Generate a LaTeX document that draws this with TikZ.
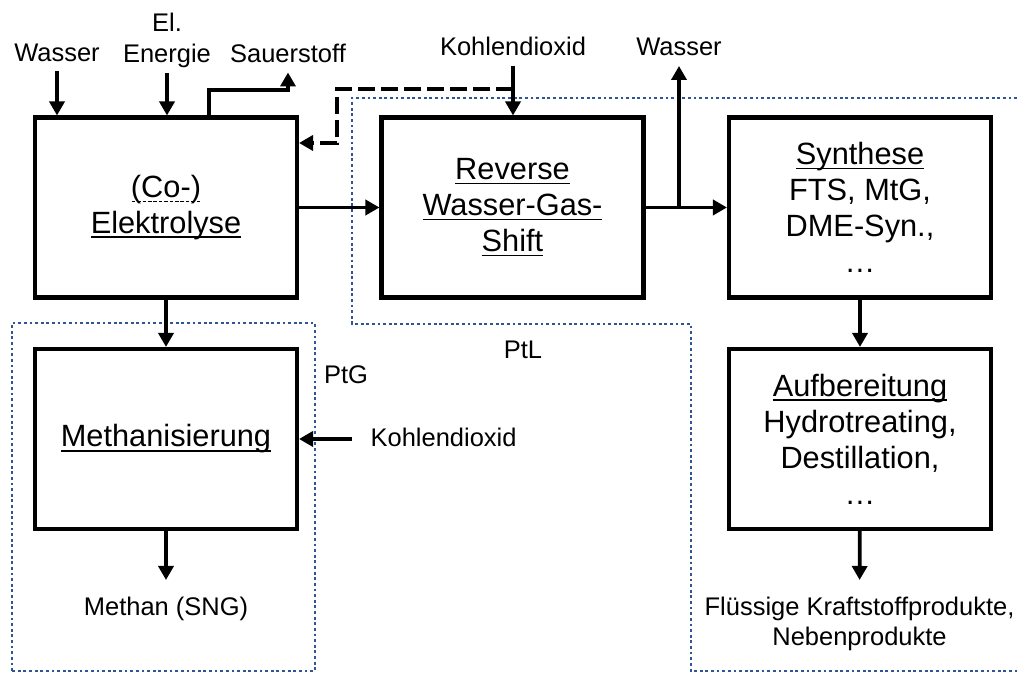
\documentclass[tikz,border=0pt]{standalone}
\usepackage{fontspec}
\setmainfont{Liberation Sans}
\usepackage{tikz}
\usetikzlibrary{arrows.meta, positioning}

\definecolor{grenzblau}{RGB}{47,85,151}
\newcommand{\boxschrift}{\fontsize{17.5}{20.5}\selectfont}
\newcommand{\lblschrift}{\fontsize{14.5}{17.5}\selectfont}
% Unterstreichungen
\newsavebox{\unterbox}
\newcommand{\unterstr}[1]{\sbox{\unterbox}{#1}\rlap{\rule[-2.6pt]{\wd\unterbox}{0.9pt}}\usebox{\unterbox}}
\newcommand{\strichunter}[1]{\sbox{\unterbox}{#1}\rlap{\raisebox{-2.6pt}{\hbox to \wd\unterbox{\xleaders\hbox to 3pt{\hss\rule{2pt}{0.6pt}\hss}\hfill}}}\usebox{\unterbox}}

\tikzset{
  prozess/.style={draw, line width=2.3pt, minimum width=5.24cm, minimum height=3.6cm, align=center, font=\boxschrift},
  beschr2/.style={align=center, font=\lblschrift, inner sep=3pt},
  beschr/.style={beschr2, text depth=0.25em},
  pfeil/.style={line width=2.1pt, -{Triangle[length=0.28cm,width=0.3cm]}},
  rueck/.style={pfeil, dash pattern=on 0.34cm off 0.12cm},
  grenze/.style={grenzblau, line width=1.6pt, dash pattern=on 1.6pt off 1.6pt},
}

\begin{document}
\begin{tikzpicture}
    \useasboundingbox (0,0) rectangle (20.34,13.46);

    % Systemgrenzen PtG und PtL
    \draw[grenze] (0.24,0.04) rectangle (6.30,7.00);
    \draw[grenze] (20.34,11.50) -- (7.04,11.50) -- (7.04,6.98) -- (13.82,6.98) -- (13.82,0.04) -- (20.34,0.04);

    % Prozessschritte
    \node[prozess] (elektro) at (3.32,9.31) {\strichunter{(Co-)}\\\unterstr{Elektrolyse}};
    \node[prozess] (rwgs) at (10.25,9.31) {\unterstr{Reverse}\\\unterstr{Wasser-Gas-}\\\unterstr{Shift}};
    \node[prozess] (synth) at (17.20,9.31) {\unterstr{Synthese}\\FTS, MtG,\\DME-Syn.,\\…};
    \node[prozess] (methan) at (3.32,4.68) {\unterstr{Methanisierung}};
    \node[prozess] (aufb) at (17.20,4.68) {\unterstr{Aufbereitung}\\Hydrotreating,\\Destillation,\\…};

    % Ein- und Ausgaenge
    \node[beschr, anchor=south] (wasserin) at (1.14,12.03) {Wasser};
    \node[beschr2, anchor=south] (energie) at (3.34,11.99) {El.\\Energie};
    \node[beschr, anchor=south] (sauer) at (5.76,12.01) {Sauerstoff};
    \node[beschr, anchor=south] (kohleA) at (10.26,12.14) {Kohlendioxid};
    \node[beschr, anchor=south] (wasserout) at (13.58,12.14) {Wasser};
    \node[beschr, anchor=west] (kohleB) at (7.30,4.68) {Kohlendioxid};
    \node[beschr, anchor=north] (methanout) at (3.32,1.64) {Methan (SNG)};
    \node[beschr2, anchor=north] (prod) at (17.19,1.64) {Flüssige Kraftstoffprodukte,\\Nebenprodukte};
    \node[beschr] (ptg) at (6.92,5.92) {PtG};
    \node[beschr] (ptl) at (10.46,6.42) {PtL};

    % Pfeile
    \draw[pfeil] (wasserin.south) -- (wasserin.south |- elektro.north);
    \draw[pfeil] (energie.south) -- (energie.south |- elektro.north);
    \coordinate (oknick) at (4.18,11.66);
    \draw[pfeil] (oknick |- elektro.north) -- (oknick) -| (sauer.south);
    \draw[pfeil] (kohleA.south) -- (kohleA.south |- rwgs.north);
    \coordinate (abzw) at (10.26,11.68);
    \coordinate (rknick) at (6.74,10.60);
    \draw[rueck] (abzw) -| (rknick) -- (rknick -| elektro.east);
    \draw[pfeil] (elektro) -- (rwgs);
    \draw[pfeil] (rwgs) -- (synth);
    \draw[pfeil] (rwgs.east -| wasserout) -- (wasserout.south);
    \draw[pfeil] (elektro) -- (methan);
    \draw[pfeil] (synth) -- (aufb);
    \draw[pfeil, shorten <=0.26cm] (kohleB.west) -- (kohleB.west -| methan.east);
    \draw[pfeil, shorten >=0.22cm] (methan) -- (methanout);
    \draw[pfeil, shorten >=0.22cm] (aufb) -- (prod);
\end{tikzpicture}
\end{document}
